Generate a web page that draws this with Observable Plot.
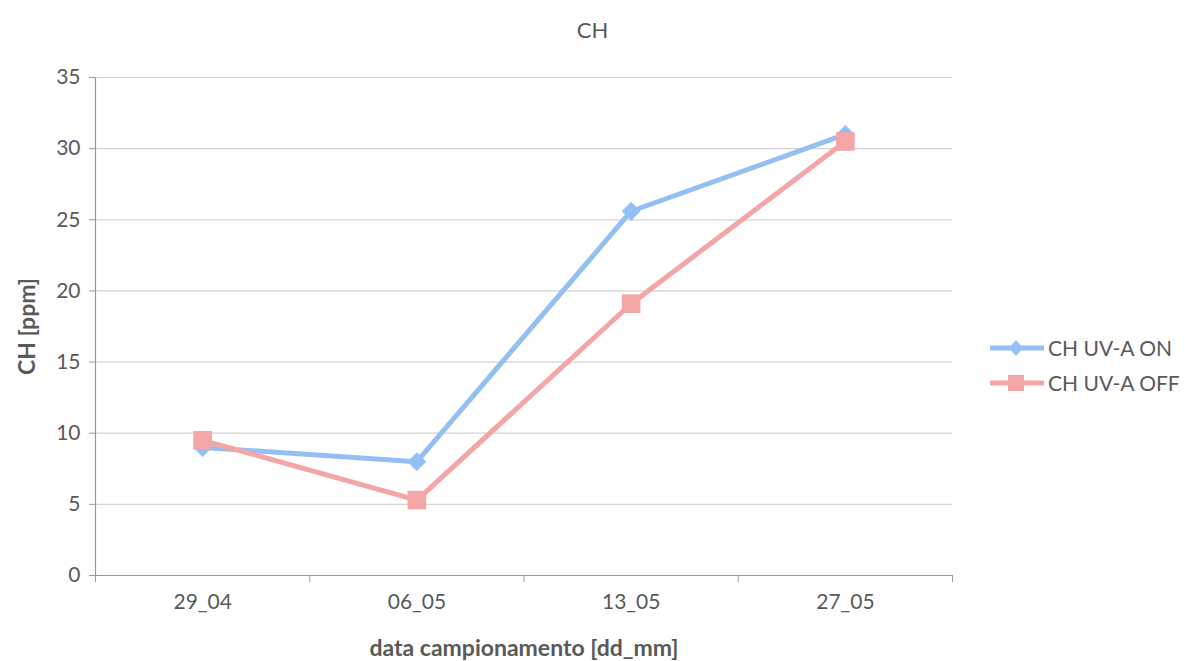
<!DOCTYPE html>
<html>
<head>
<meta charset="utf-8">
<script src="https://cdn.jsdelivr.net/npm/d3@7"></script>
<script src="https://cdn.jsdelivr.net/npm/@observablehq/plot@0.6"></script>
<style>
  body { margin: 0; background: #fff; font-family: Lato, "Open Sans", sans-serif; }
  #wrap { position: relative; width: 1185px; height: 661px; }
  #title { position: absolute; left: 0; width: 1185px; top: 16px; text-align: center; font-size: 22px; color: #595959; }
  #legend { position: absolute; left: 988px; top: 330px; font-size: 21px; color: #595959; }
  .item { display: flex; align-items: center; height: 35px; }
  .item svg { margin-right: 3px; }
</style>
</head>
<body>
<div id="wrap">
  <div id="title">CH</div>
  <div id="chart"></div>
  <div id="legend"></div>
</div>
<script>
const categories = ["29_04", "06_05", "13_05", "27_05"];
const seriesNames = ["CH UV-A ON", "CH UV-A OFF"];
const valuesOn = [9.0, 8.0, 25.6, 31.0];
const valuesOff = [9.5, 5.3, 19.1, 30.5];
const yTicks = [0, 5, 10, 15, 20, 25, 30, 35];
const colors = ["#94bff3", "#f4a5a5"];

const rows = [];
categories.forEach((c, i) => {
  rows.push({i, cat: c, series: seriesNames[0], value: valuesOn[i]});
});
categories.forEach((c, i) => {
  rows.push({i, cat: c, series: seriesNames[1], value: valuesOff[i]});
});
const on = rows.filter(d => d.series === seriesNames[0]);
const off = rows.filter(d => d.series === seriesNames[1]);
const boundaries = d3.range(categories.length + 1).map(k => k - 0.5);

const chart = Plot.plot({
  width: 1185,
  height: 661,
  marginLeft: 95,
  marginRight: 233,
  marginTop: 77,
  marginBottom: 86,
  style: {fontFamily: "Lato, 'Open Sans', sans-serif", fontSize: "21px", color: "#595959", background: "transparent"},
  x: {type: "linear", domain: [-0.5, categories.length - 0.5]},
  y: {domain: [0, 35]},
  marks: [
    Plot.gridY(yTicks, {stroke: "#d4d4d4", strokeOpacity: 1, strokeWidth: 1.2}),
    Plot.axisY(yTicks, {tickSize: 6, tickPadding: 9, stroke: "#9a9a9a", fontSize: 21, label: "CH [ppm]", labelAnchor: "center", labelArrow: "none", labelOffset: 77}),
    Plot.axisX(boundaries, {tickSize: 7, tickFormat: () => "", stroke: "#9a9a9a", label: null}),
    Plot.axisX(d3.range(categories.length), {tickSize: 0, tickPadding: 19, tickFormat: i => categories[i], fontSize: 21, label: "data campionamento [dd_mm]", labelAnchor: "center", labelArrow: "none", labelOffset: 80}),
    Plot.ruleX([-0.5], {y1: 0, y2: 35, stroke: "#9a9a9a", strokeWidth: 1.2}),
    Plot.ruleY([0], {stroke: "#9a9a9a", strokeWidth: 1.2}),
    Plot.line(on, {x: "i", y: "value", stroke: colors[0], strokeWidth: 5}),
    Plot.dot(on, {x: "i", y: "value", symbol: "diamond2", r: 8.5, fill: colors[0], stroke: "none"}),
    Plot.line(off, {x: "i", y: "value", stroke: colors[1], strokeWidth: 5}),
    Plot.dot(off, {x: "i", y: "value", symbol: "square", r: 10.5, fill: colors[1], stroke: "none"})
  ]
});
document.getElementById("chart").appendChild(chart);
// bold, larger axis titles
chart.querySelectorAll("[aria-label='x-axis label'] text, [aria-label='y-axis label'] text").forEach(t => {
  t.setAttribute("font-weight", "bold");
  t.setAttribute("font-size", "23px");
});

// legend
const legend = document.getElementById("legend");
seriesNames.forEach((name, k) => {
  const item = document.createElement("div");
  item.className = "item";
  const marker = k === 0
    ? `<polygon points="28,2 35,10 28,18 21,10" fill="${colors[0]}"/>`
    : `<rect x="20" y="2" width="16" height="16" fill="${colors[1]}"/>`;
  item.innerHTML = `<svg width="57" height="20"><line x1="2" x2="56" y1="10" y2="10" stroke="${colors[k]}" stroke-width="5"/>${marker}</svg><span>${name}</span>`;
  legend.appendChild(item);
});
</script>
</body>
</html>
